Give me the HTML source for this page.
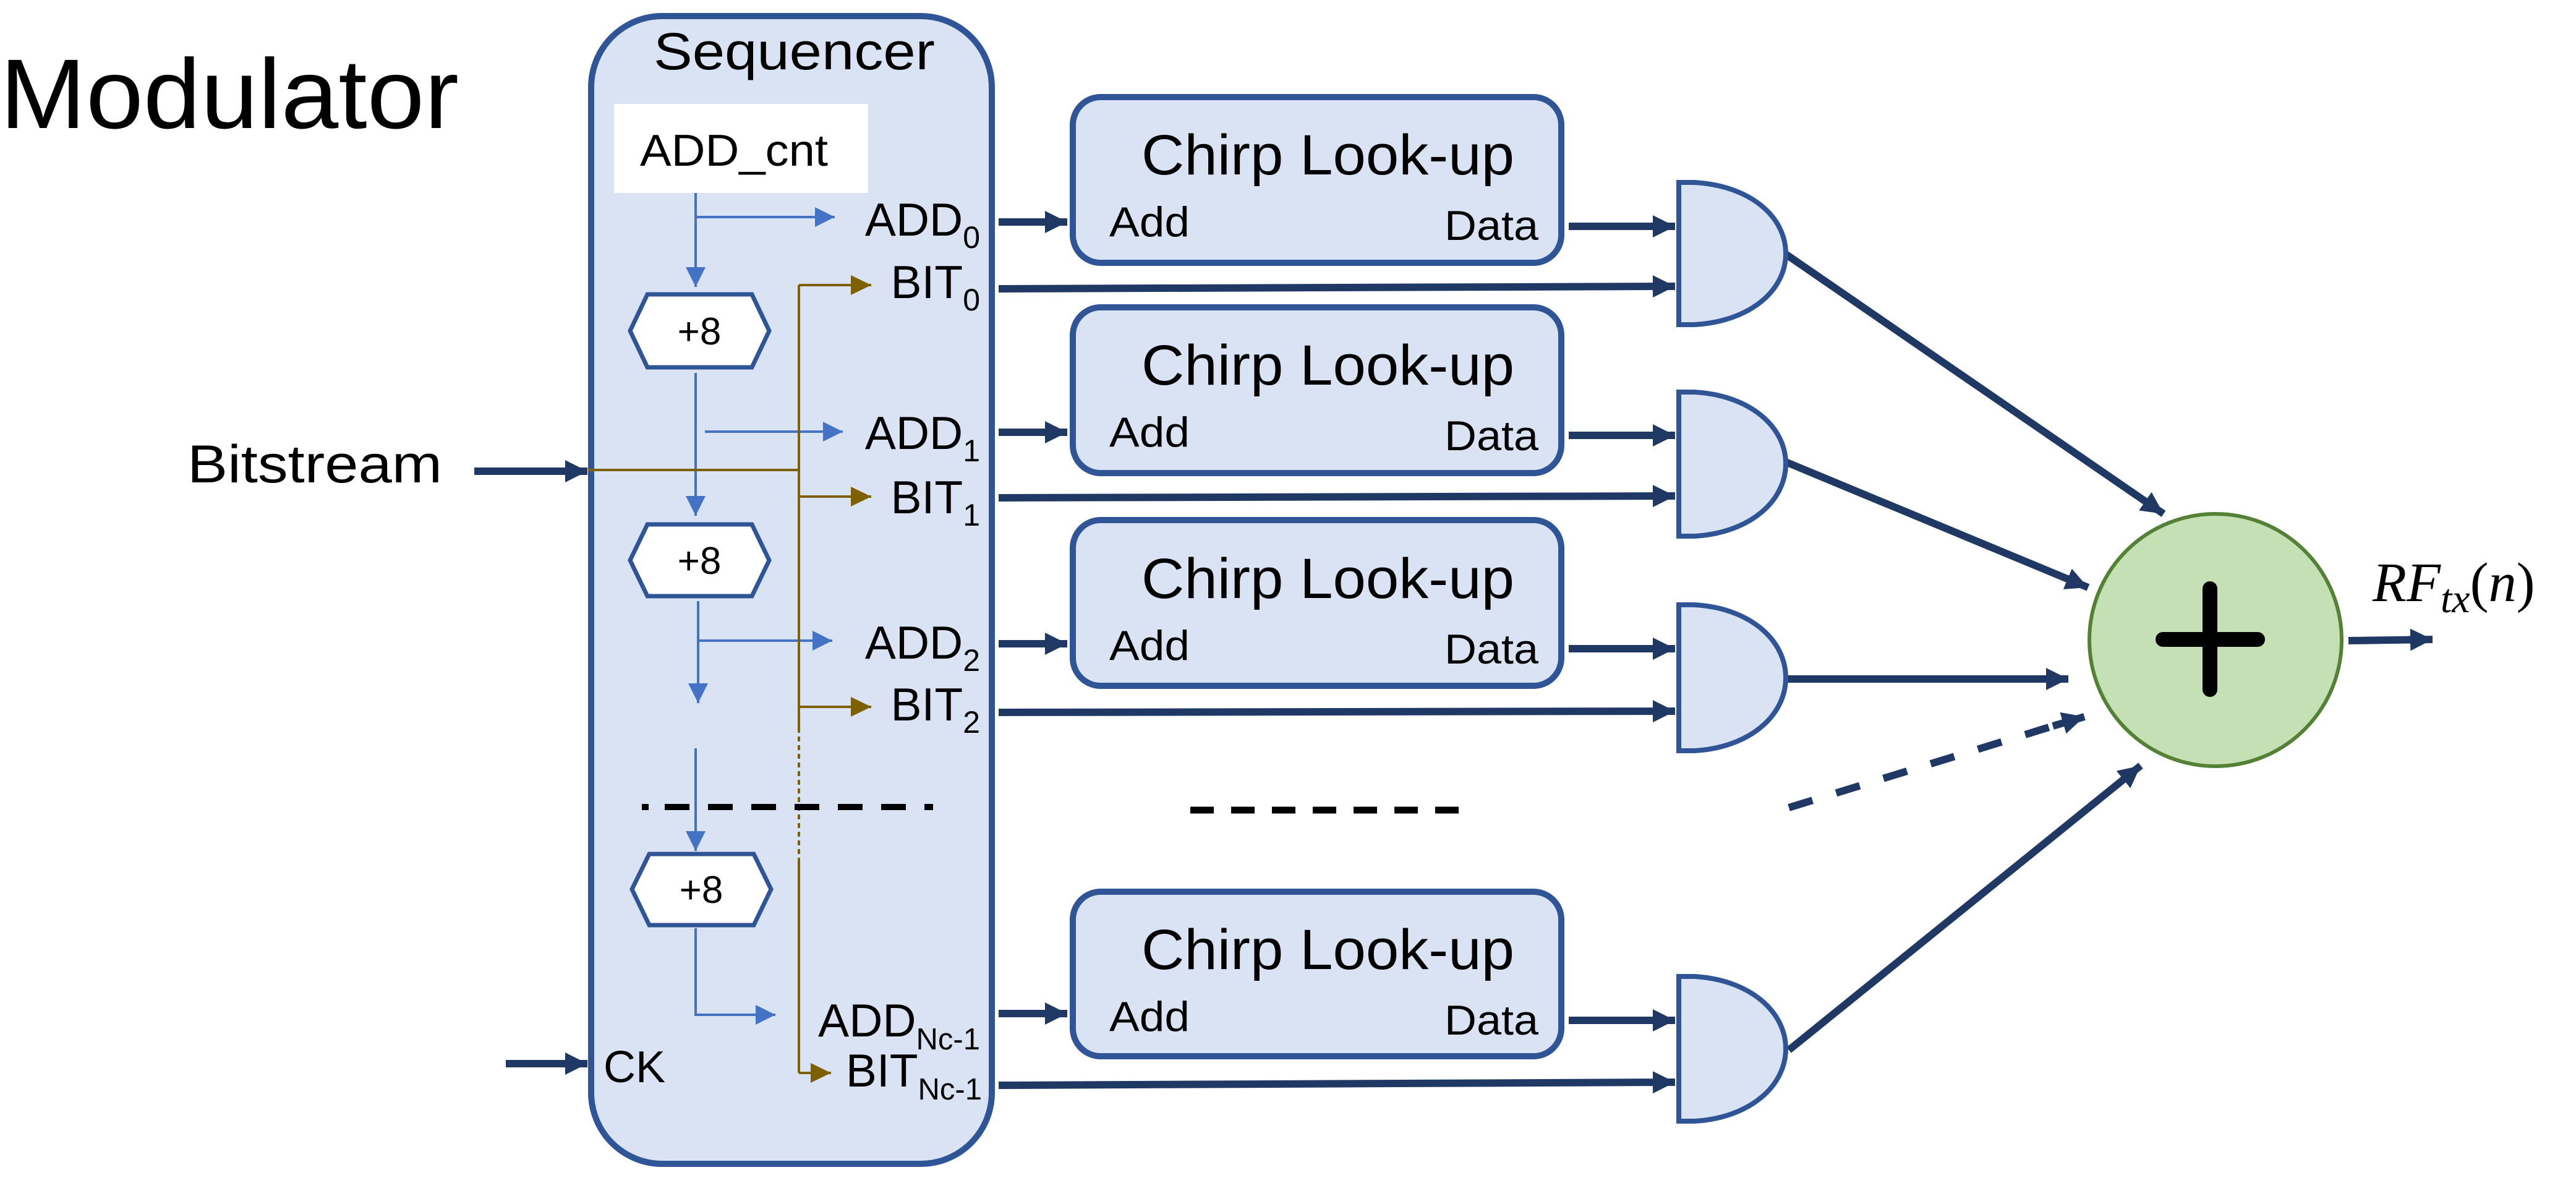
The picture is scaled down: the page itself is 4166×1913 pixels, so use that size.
<!DOCTYPE html>
<html><head><meta charset="utf-8"><style>
html,body{margin:0;padding:0;background:#fff;}
svg{display:block;}
text{font-family:"Liberation Sans",sans-serif;fill:#000;}
</style></head><body>
<svg width="4166" height="1913" viewBox="0 0 4166 1913" xmlns="http://www.w3.org/2000/svg">
<defs>
<marker id="nv" markerUnits="userSpaceOnUse" markerWidth="40" markerHeight="40" refX="36" refY="18" orient="auto"><path d="M0,0 L36,18 L0,36 Z" fill="#203864"/></marker>
<marker id="bl" markerUnits="userSpaceOnUse" markerWidth="36" markerHeight="36" refX="32" refY="16" orient="auto"><path d="M0,0 L32,16 L0,32 Z" fill="#4472c4"/></marker>
<marker id="br" markerUnits="userSpaceOnUse" markerWidth="36" markerHeight="36" refX="33" refY="16" orient="auto"><path d="M0,0 L33,16 L0,32 Z" fill="#7f6000"/></marker>
</defs>

<text x="0" y="207" font-size="160" textLength="742" lengthAdjust="spacingAndGlyphs">Modulator</text>

<!-- Sequencer -->
<rect x="956" y="26" width="648" height="1856" rx="115" ry="115" fill="#dae3f3" stroke="#2f5597" stroke-width="10"/>
<text x="1057" y="112" font-size="84" textLength="455" lengthAdjust="spacingAndGlyphs">Sequencer</text>
<rect x="993" y="168" width="411" height="144" fill="#fff"/>
<text x="1035" y="268" font-size="72" textLength="304" lengthAdjust="spacingAndGlyphs">ADD_cnt</text>

<!-- blue -->
<g stroke="#4472c4" stroke-width="4" fill="none">
<line x1="1125" y1="312" x2="1125" y2="464" marker-end="url(#bl)"/>
<line x1="1127" y1="351" x2="1350" y2="351" marker-end="url(#bl)"/>
<line x1="1125" y1="603" x2="1125" y2="834" marker-end="url(#bl)"/>
<line x1="1140" y1="698" x2="1363" y2="698" marker-end="url(#bl)"/>
<line x1="1129" y1="972" x2="1129" y2="1137" marker-end="url(#bl)"/>
<line x1="1127" y1="1036" x2="1346" y2="1036" marker-end="url(#bl)"/>
<line x1="1125" y1="1210" x2="1125" y2="1376" marker-end="url(#bl)"/>
<polyline points="1125,1501 1125,1641 1254,1641" marker-end="url(#bl)"/>
</g>

<!-- hexes -->
<g fill="#fff" stroke="#2f5597" stroke-width="7">
<polygon points="1019,535 1047,476 1216,476 1244,535 1216,594 1047,594"/>
<polygon points="1019,906 1047,848 1216,848 1244,906 1216,964 1047,964"/>
<polygon points="1022,1438 1050,1381 1219,1381 1247,1438 1219,1496 1050,1496"/>
</g>
<g font-size="62" text-anchor="middle">
<text x="1131" y="557">+8</text>
<text x="1131" y="928">+8</text>
<text x="1134" y="1460">+8</text>
</g>

<!-- brown -->
<g stroke="#7f6000" stroke-width="4" fill="none">
<line x1="952" y1="760" x2="1292" y2="760"/>
<line x1="1292" y1="461" x2="1292" y2="1177"/>
<line x1="1292" y1="1177" x2="1292" y2="1391" stroke-dasharray="8,6"/>
<line x1="1292" y1="1391" x2="1292" y2="1735"/>
<line x1="1292" y1="461" x2="1409" y2="461" marker-end="url(#br)"/>
<line x1="1292" y1="803" x2="1409" y2="803" marker-end="url(#br)"/>
<line x1="1292" y1="1143" x2="1409" y2="1143" marker-end="url(#br)"/>
<line x1="1292" y1="1735" x2="1344" y2="1735" marker-end="url(#br)"/>
</g>

<!-- black dashes in sequencer -->
<line x1="1038" y1="1305" x2="1049" y2="1305" stroke="#000" stroke-width="10"/>
<line x1="1075" y1="1305" x2="1509" y2="1305" stroke="#000" stroke-width="10" stroke-dasharray="40,30"/>

<!-- labels -->
<g font-size="75" text-anchor="end">
<text x="1585" y="381">ADD<tspan font-size="50" dy="20">0</tspan></text>
<text x="1585" y="482">BIT<tspan font-size="50" dy="20">0</tspan></text>
<text x="1585" y="726">ADD<tspan font-size="50" dy="20">1</tspan></text>
<text x="1585" y="830">BIT<tspan font-size="50" dy="20">1</tspan></text>
<text x="1585" y="1065">ADD<tspan font-size="50" dy="20">2</tspan></text>
<text x="1585" y="1165">BIT<tspan font-size="50" dy="20">2</tspan></text>
<text x="1585" y="1676">ADD<tspan font-size="49" dy="21">Nc-1</tspan></text>
<text x="1588" y="1757">BIT<tspan font-size="49" dy="21">Nc-1</tspan></text>
</g>

<text x="303" y="780" font-size="86" textLength="412" lengthAdjust="spacingAndGlyphs">Bitstream</text>
<text x="976" y="1750" font-size="72">CK</text>

<!-- navy arrows -->
<g stroke="#203864" stroke-width="12" fill="none">
<line x1="767" y1="762" x2="950" y2="762" marker-end="url(#nv)"/>
<line x1="818" y1="1720" x2="950" y2="1720" marker-end="url(#nv)"/>
<line x1="1615" y1="359" x2="1726" y2="359" marker-end="url(#nv)"/>
<line x1="1615" y1="699" x2="1726" y2="699" marker-end="url(#nv)"/>
<line x1="1615" y1="1041" x2="1726" y2="1041" marker-end="url(#nv)"/>
<line x1="1615" y1="1639" x2="1726" y2="1639" marker-end="url(#nv)"/>
<line x1="1615" y1="467" x2="2709" y2="463" marker-end="url(#nv)"/>
<line x1="1615" y1="805" x2="2709" y2="802" marker-end="url(#nv)"/>
<line x1="1615" y1="1152" x2="2709" y2="1150" marker-end="url(#nv)"/>
<line x1="1615" y1="1755" x2="2709" y2="1750" marker-end="url(#nv)"/>
<line x1="2537" y1="366" x2="2709" y2="366" marker-end="url(#nv)"/>
<line x1="2537" y1="704" x2="2709" y2="704" marker-end="url(#nv)"/>
<line x1="2537" y1="1049" x2="2709" y2="1049" marker-end="url(#nv)"/>
<line x1="2537" y1="1650" x2="2709" y2="1650" marker-end="url(#nv)"/>
<line x1="2888" y1="411" x2="3499" y2="831" marker-end="url(#nv)"/>
<line x1="2888" y1="747" x2="3377" y2="950" marker-end="url(#nv)"/>
<line x1="2888" y1="1098" x2="3345" y2="1098" marker-end="url(#nv)"/>
<line x1="2893" y1="1698" x2="3462" y2="1238" marker-end="url(#nv)"/>
<line x1="2893" y1="1306" x2="3330" y2="1171" stroke-dasharray="40,40"/>
<line x1="3320" y1="1174" x2="3371" y2="1159" marker-end="url(#nv)"/>
<line x1="3798" y1="1036" x2="3934" y2="1034" marker-end="url(#nv)"/>
</g>

<!-- chirp boxes -->
<g fill="#dae3f3" stroke="#2f5597" stroke-width="10">
<rect x="1735" y="157" width="790" height="268" rx="45"/>
<rect x="1735" y="497" width="790" height="268" rx="45"/>
<rect x="1735" y="841" width="790" height="268" rx="45"/>
<rect x="1735" y="1442" width="790" height="266" rx="45"/>
</g>
<g>
<text x="1846" y="282" font-size="92" textLength="603" lengthAdjust="spacingAndGlyphs">Chirp Look-up</text>
<text x="1794" y="382" font-size="68" textLength="130" lengthAdjust="spacingAndGlyphs">Add</text>
<text x="2336" y="388" font-size="68" textLength="152" lengthAdjust="spacingAndGlyphs">Data</text>
<text x="1846" y="622" font-size="92" textLength="603" lengthAdjust="spacingAndGlyphs">Chirp Look-up</text>
<text x="1794" y="722" font-size="68" textLength="130" lengthAdjust="spacingAndGlyphs">Add</text>
<text x="2336" y="728" font-size="68" textLength="152" lengthAdjust="spacingAndGlyphs">Data</text>
<text x="1846" y="967" font-size="92" textLength="603" lengthAdjust="spacingAndGlyphs">Chirp Look-up</text>
<text x="1794" y="1067" font-size="68" textLength="130" lengthAdjust="spacingAndGlyphs">Add</text>
<text x="2336" y="1073" font-size="68" textLength="152" lengthAdjust="spacingAndGlyphs">Data</text>
<text x="1846" y="1567" font-size="92" textLength="603" lengthAdjust="spacingAndGlyphs">Chirp Look-up</text>
<text x="1794" y="1667" font-size="68" textLength="130" lengthAdjust="spacingAndGlyphs">Add</text>
<text x="2336" y="1673" font-size="68" textLength="152" lengthAdjust="spacingAndGlyphs">Data</text>
</g>
<line x1="1925" y1="1310" x2="2362" y2="1310" stroke="#000" stroke-width="11" stroke-dasharray="38,28"/>

<!-- gates -->
<g fill="#dae3f3" stroke="#2f5597" stroke-width="8">
<path d="M2715,295 L2740,295 C2830,300 2888,350 2888,410 C2888,470 2830,520 2740,525 L2715,525 Z"/>
<path d="M2715,634 L2740,634 C2830,639 2888,690 2888,750 C2888,810 2830,862 2740,867 L2715,867 Z"/>
<path d="M2715,978 L2740,978 C2830,983 2888,1035 2888,1096 C2888,1157 2830,1209 2740,1214 L2715,1214 Z"/>
<path d="M2715,1579 L2740,1579 C2830,1584 2888,1636 2888,1696 C2888,1756 2830,1808 2740,1813 L2715,1813 Z"/>
</g>

<!-- adder -->
<circle cx="3583" cy="1035" r="204" fill="#c5e0b4" stroke="#538135" stroke-width="6"/>
<g stroke="#000" stroke-width="24" stroke-linecap="round">
<line x1="3498" y1="1034" x2="3651" y2="1034"/>
<line x1="3574" y1="952" x2="3574" y2="1115"/>
</g>
<text x="3837" y="972" style="font-family:'Liberation Serif',serif;font-style:italic;font-size:90px;">RF<tspan style="font-size:66px" dy="18">tx</tspan><tspan dy="-18" style="font-style:normal">(</tspan>n<tspan style="font-style:normal">)</tspan></text>
</svg>
</body></html>
